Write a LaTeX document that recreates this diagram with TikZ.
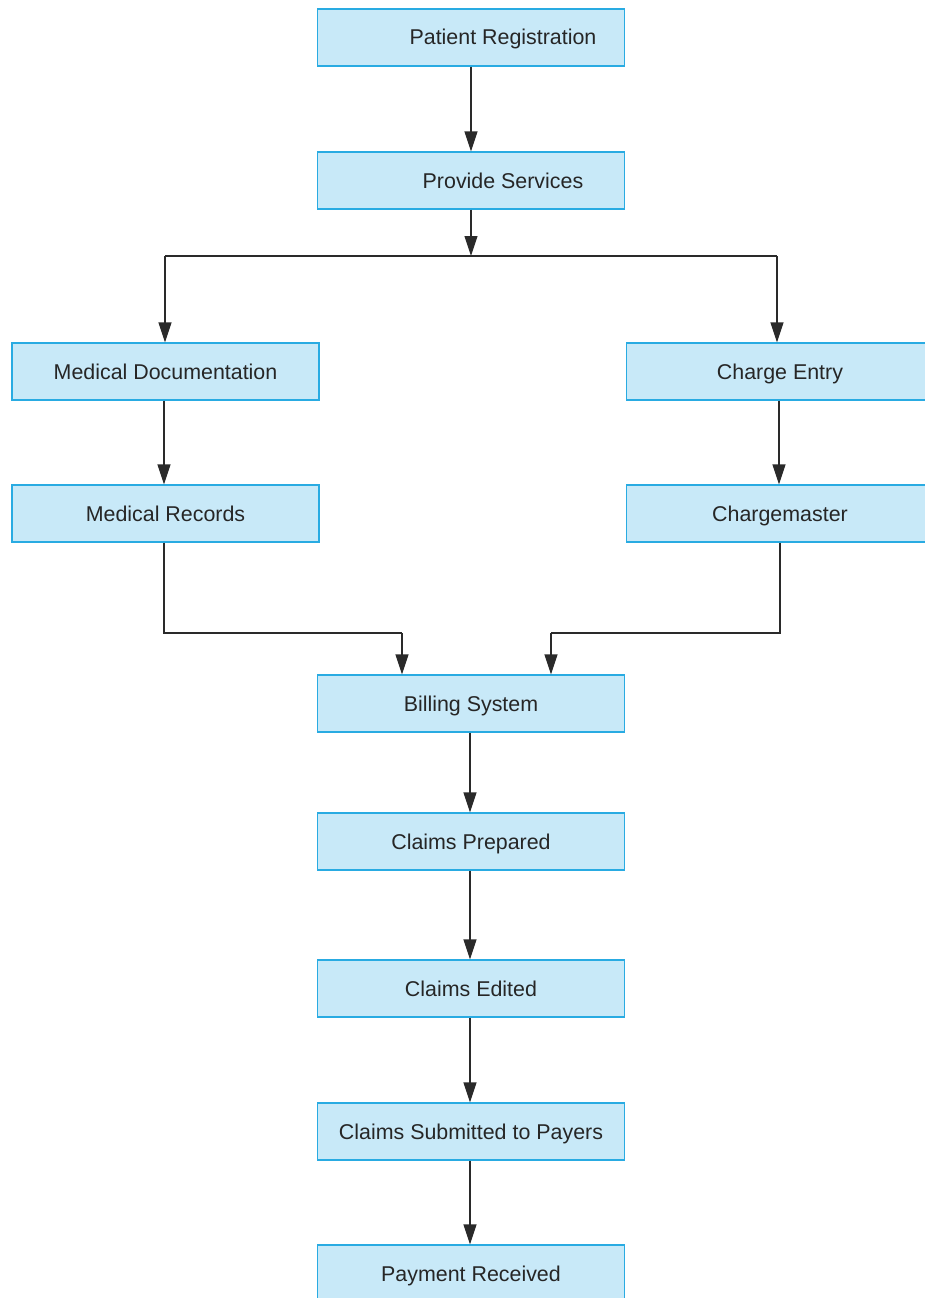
\documentclass[tikz,border=0pt]{standalone}
\usepackage{fontspec}
\setmainfont{Liberation Sans}
\usetikzlibrary{arrows.meta}
\definecolor{boxfill}{HTML}{C8E9F8}
\definecolor{boxline}{HTML}{29ABE2}
\definecolor{lineclr}{HTML}{2A2A2A}
\begin{document}
\begin{tikzpicture}[x=1pt,y=-1pt,
  stepbox/.style={draw=boxline, line width=1.1pt, fill=boxfill, minimum width=307pt, minimum height=57pt, inner sep=0pt, text height=19pt, text depth=4pt, font=\fontsize{21.4}{24}\selectfont, text=black!85},
  conn/.style={draw=lineclr, line width=1.1pt},
  arr/.style={conn, -{Triangle[length=20pt,width=13pt]}}]
\clip (0,0) rectangle (925,1298);
\fill[white] (0,0) rectangle (925,1298);
\node[stepbox] (pr) at (471,37.5) {\hspace*{64pt}Patient Registration};
\node[stepbox] (ps) at (471,180.5) {\hspace*{64pt}Provide Services};
\node[stepbox] (md) at (165.5,371.5) {Medical Documentation};
\node[stepbox] (ce) at (780,371.5) {Charge Entry};
\node[stepbox] (mr) at (165.5,513.5) {Medical Records};
\node[stepbox] (cm) at (780,513.5) {Chargemaster};
\node[stepbox] (bs) at (471,703.5) {Billing System};
\node[stepbox] (cp) at (471,841.5) {Claims Prepared};
\node[stepbox] (ced) at (471,988.5) {Claims Edited};
\node[stepbox] (cs) at (471,1131.5) {Claims Submitted to Payers};
\node[stepbox] (pay) at (471,1273.5) {Payment Received};
\coordinate (j) at (471,256);
\coordinate (jl) at (165,256);
\coordinate (jr) at (777,256);
\coordinate (ml) at (164,633);
\coordinate (mrr) at (402,633);
\coordinate (cl) at (780,633);
\coordinate (cll) at (551,633);
\draw[arr] (pr.south) -- (ps.north);
\draw[arr] (ps.south) -- (j);
\draw[conn] (jl) -- (jr);
\draw[arr] (jl) -- (jl |- md.north);
\draw[arr] (jr) -- (jr |- ce.north);
\draw[arr] ([xshift=-1.5pt]md.south) -- ([xshift=-1.5pt]mr.north);
\draw[arr] ([xshift=-1pt]ce.south) -- ([xshift=-1pt]cm.north);
\draw[conn] (ml |- mr.south) -- (ml) -- (mrr);
\draw[arr] (mrr) -- (mrr |- bs.north);
\draw[conn] (cm.south) -- (cl) -- (cll);
\draw[arr] (cll) -- (cll |- bs.north);
\draw[arr] ([xshift=-1pt]bs.south) -- ([xshift=-1pt]cp.north);
\draw[arr] ([xshift=-1pt]cp.south) -- ([xshift=-1pt]ced.north);
\draw[arr] ([xshift=-1pt]ced.south) -- ([xshift=-1pt]cs.north);
\draw[arr] ([xshift=-1pt]cs.south) -- ([xshift=-1pt]pay.north);
\end{tikzpicture}
\end{document}
